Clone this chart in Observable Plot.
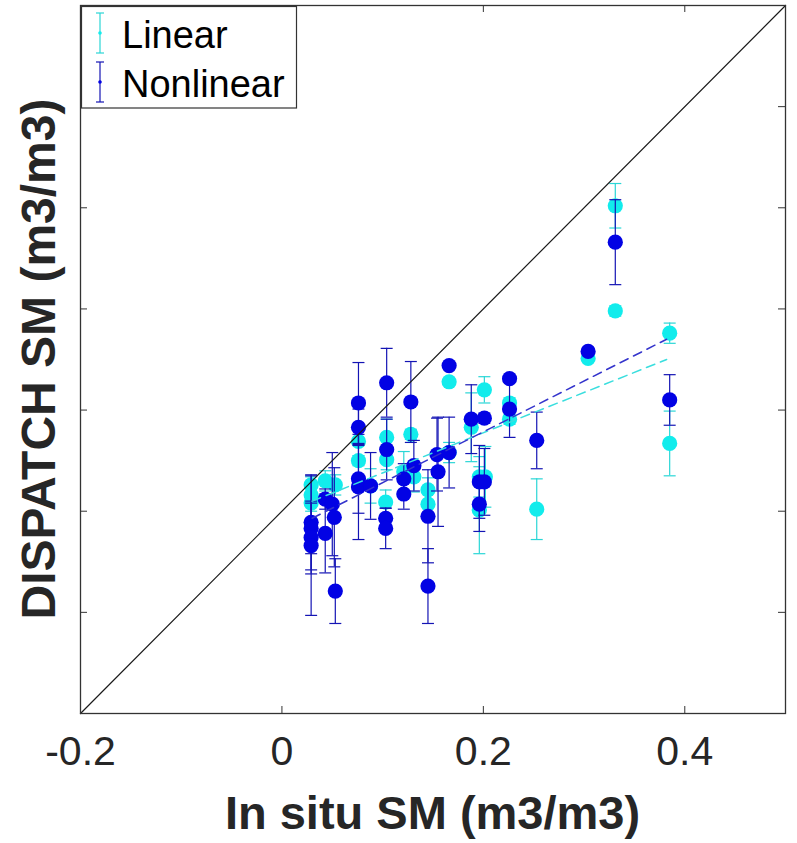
<!DOCTYPE html>
<html>
<head>
<meta charset="utf-8">
<script src="https://cdn.jsdelivr.net/npm/d3@7"></script>
<script src="https://cdn.jsdelivr.net/npm/@observablehq/plot@0.6"></script>
<style>
  html, body { margin: 0; padding: 0; background: #fff; }
  #chart { width: 797px; height: 843px; }
  svg { font-family: "Liberation Sans", Arial, Helvetica, sans-serif; }
</style>
</head>
<body>
<div id="chart"></div>
<script>
// ---- data ----
const seriesNames = ["Linear", "Nonlinear"];

// Linear (cyan): in situ SM, DISPATCH SM, error (std)
const linX   = [0.029, 0.029, 0.029, 0.043, 0.053, 0.076, 0.076, 0.088, 0.104, 0.104, 0.103, 0.128, 0.131, 0.121, 0.145, 0.145, 0.166, 0.166, 0.188, 0.201, 0.196, 0.196, 0.202, 0.226, 0.226, 0.253, 0.304, 0.331, 0.331, 0.385, 0.385];
const linY   = [0.026, 0.016, 0.008, 0.030, 0.026, 0.069, 0.050, 0.025, 0.073, 0.051, 0.009, 0.076, 0.034, 0.039, 0.021, 0.007, 0.128, 0.058, 0.083, 0.120, 0.034, 0.001, 0.034, 0.107, 0.091, 0.002, 0.151, 0.302, 0.198, 0.176, 0.067];
const linErr = [0.008, 0.008, 0.008, 0.010, 0.010, 0.003, 0.005, 0.017, 0.018, 0.010, 0.012, 0.005, 0.015, 0.020, 0.012, 0.012, 0.003, 0.010, 0.034, 0.013, 0.020, 0.043, 0.030, 0.005, 0.005, 0.030, 0.002, 0.022, 0.005, 0.010, 0.032];

// Nonlinear (blue)
const nlX   = [0.029, 0.029, 0.029, 0.029, 0.043, 0.043, 0.050, 0.052, 0.053, 0.076, 0.076, 0.076, 0.076, 0.088, 0.104, 0.104, 0.103, 0.103, 0.121, 0.121, 0.128, 0.131, 0.145, 0.145, 0.154, 0.155, 0.166, 0.166, 0.188, 0.201, 0.196, 0.201, 0.196, 0.226, 0.226, 0.253, 0.304, 0.331, 0.385];
const nlY   = [-0.011, -0.017, -0.026, -0.034, 0.012, -0.022, 0.007, -0.006, -0.079, 0.107, 0.083, 0.032, 0.024, 0.025, 0.127, 0.061, -0.007, -0.017, 0.032, 0.017, 0.108, 0.045, -0.005, -0.074, 0.056, 0.039, 0.144, 0.058, 0.091, 0.092, 0.029, 0.029, 0.007, 0.131, 0.101, 0.070, 0.158, 0.266, 0.110];
const nlErr = [0.047, 0.025, 0.036, 0.069, 0.010, 0.039, 0.051, 0.049, 0.032, 0.040, 0.018, 0.034, 0.052, 0.033, 0.034, 0.030, 0.010, 0.020, 0.015, 0.015, 0.040, 0.025, 0.046, 0.037, 0.036, 0.054, 0.003, 0.035, 0.034, 0.005, 0.036, 0.033, 0.027, 0.003, 0.028, 0.028, 0.002, 0.042, 0.025];

// dashed fit lines
const fitX   = [0.030, 0.382];
const fitLin = [0.010, 0.150];
const fitNl  = [-0.007, 0.170];

// 1:1 line and axes
const diag        = [-0.2, 0.5];
const xDomain     = [-0.2, 0.5];
const yDomain     = [-0.2, 0.5];
const xTickLabels = [-0.2, 0, 0.2, 0.4];
const xTickMarks  = [0, 0.2, 0.4];
const yTickMarks  = [-0.1, 0, 0.1, 0.2, 0.3, 0.4];
const xLabel = "In situ SM (m3/m3)";
const yLabel = "DISPATCH SM (m3/m3)";

// ---- styles ----
const cyanDot = "#12ecec", cyanBar = "#2ad6d6", cyanFit = "#3adede";
const blueDot = "#0202e4", blueBar = "#1414b4", blueFit = "#3434cc";
const axisCol = "#333333";

const W = 797, H = 843;
const mL = 80, mR = 12, mT = 5, mB = 130;
const innerW = W - mL - mR, innerH = H - mT - mB;
const tickLen = 7;

const lin = linX.map((x, i) => ({x, y: linY[i], e: linErr[i]}));
const nl  = nlX.map((x, i) => ({x, y: nlY[i], e: nlErr[i]}));
const fitL = fitX.map((x, i) => ({x, y: fitLin[i]}));
const fitN = fitX.map((x, i) => ({x, y: fitNl[i]}));

const capSymbol = {
  draw(context, size) {
    const w = Math.sqrt(size / Math.PI);
    context.moveTo(-w, 0);
    context.lineTo(w, 0);
  }
};

function errMarks(data, barCol, dotCol) {
  return [
    Plot.ruleX(data, {x: "x", y1: d => d.y - d.e, y2: d => d.y + d.e, stroke: barCol, strokeWidth: 1.2}),
    Plot.dot(data, {x: "x", y: d => d.y - d.e, symbol: capSymbol, r: 6, stroke: barCol, fill: "none", strokeWidth: 1.2}),
    Plot.dot(data, {x: "x", y: d => d.y + d.e, symbol: capSymbol, r: 6, stroke: barCol, fill: "none", strokeWidth: 1.2}),
    Plot.dot(data, {x: "x", y: "y", r: 7.6, fill: dotCol, stroke: "none"})
  ];
}

const chart = Plot.plot({
  width: W, height: H,
  marginLeft: mL, marginRight: mR, marginTop: mT, marginBottom: mB,
  x: {domain: xDomain},
  y: {domain: yDomain, axis: null},
  style: {fontFamily: "'Liberation Sans', Arial, Helvetica, sans-serif", background: "white"},
  marks: [
    ...errMarks(lin, cyanBar, cyanDot),
    ...errMarks(nl, blueBar, blueDot),
    Plot.line(fitL, {x: "x", y: "y", stroke: cyanFit, strokeWidth: 1.5, strokeDasharray: "9,6"}),
    Plot.line(fitN, {x: "x", y: "y", stroke: blueFit, strokeWidth: 1.5, strokeDasharray: "9,6"}),
    Plot.line(diag, {x: d => d, y: d => d, stroke: "#1a1a1a", strokeWidth: 1.2}),
    // inward ticks (bottom, top, left, right)
    Plot.tickX(xTickMarks, {x: d => d, insetTop: innerH - tickLen, stroke: axisCol}),
    Plot.tickX(xTickMarks, {x: d => d, insetBottom: innerH - tickLen, stroke: axisCol}),
    Plot.tickY(yTickMarks, {y: d => d, insetRight: innerW - tickLen, stroke: axisCol}),
    Plot.tickY(yTickMarks, {y: d => d, insetLeft: innerW - tickLen, stroke: axisCol}),
    Plot.frame({stroke: axisCol, strokeWidth: 1.3}),
    Plot.axisX(xTickLabels, {tickSize: 0, tickPadding: 22, fontSize: 41, tickFormat: d => String(d), label: null, fill: "#262626"})
  ]
});

document.getElementById("chart").appendChild(chart);

// ---- axis titles and legend ----
const svg = d3.select(chart);
svg.append("text")
  .attr("x", mL + innerW / 2).attr("y", 829)
  .attr("text-anchor", "middle")
  .attr("font-size", 47).attr("font-weight", "bold").attr("fill", "#262626")
  .text(xLabel);
svg.append("text")
  .attr("transform", `translate(55,${mT + innerH / 2}) rotate(-90)`)
  .attr("text-anchor", "middle")
  .attr("font-size", 48).attr("font-weight", "bold").attr("fill", "#262626")
  .text(yLabel);

const lg = svg.append("g");
lg.append("rect").attr("x", 81.5).attr("y", 6.5).attr("width", 215).attr("height", 101.5)
  .attr("fill", "white").attr("stroke", axisCol).attr("stroke-width", 1.2);
const legendCols = [[cyanBar, cyanDot], [blueBar, blueDot]];
seriesNames.forEach((name, i) => {
  const cy = 33 + i * 49;
  const [bc, dc] = legendCols[i];
  const g = lg.append("g").attr("stroke", bc).attr("stroke-width", 1.2);
  g.append("line").attr("x1", 100).attr("x2", 100).attr("y1", cy - 20).attr("y2", cy + 20);
  g.append("line").attr("x1", 96).attr("x2", 104).attr("y1", cy - 20).attr("y2", cy - 20);
  g.append("line").attr("x1", 96).attr("x2", 104).attr("y1", cy + 20).attr("y2", cy + 20);
  lg.append("circle").attr("cx", 100).attr("cy", cy).attr("r", 1.8).attr("fill", dc);
  lg.append("text").attr("x", 122).attr("y", cy + 15)
    .attr("text-anchor", "start")
    .attr("font-size", 38).attr("fill", "#000").text(name);
});
</script>
</body>
</html>
